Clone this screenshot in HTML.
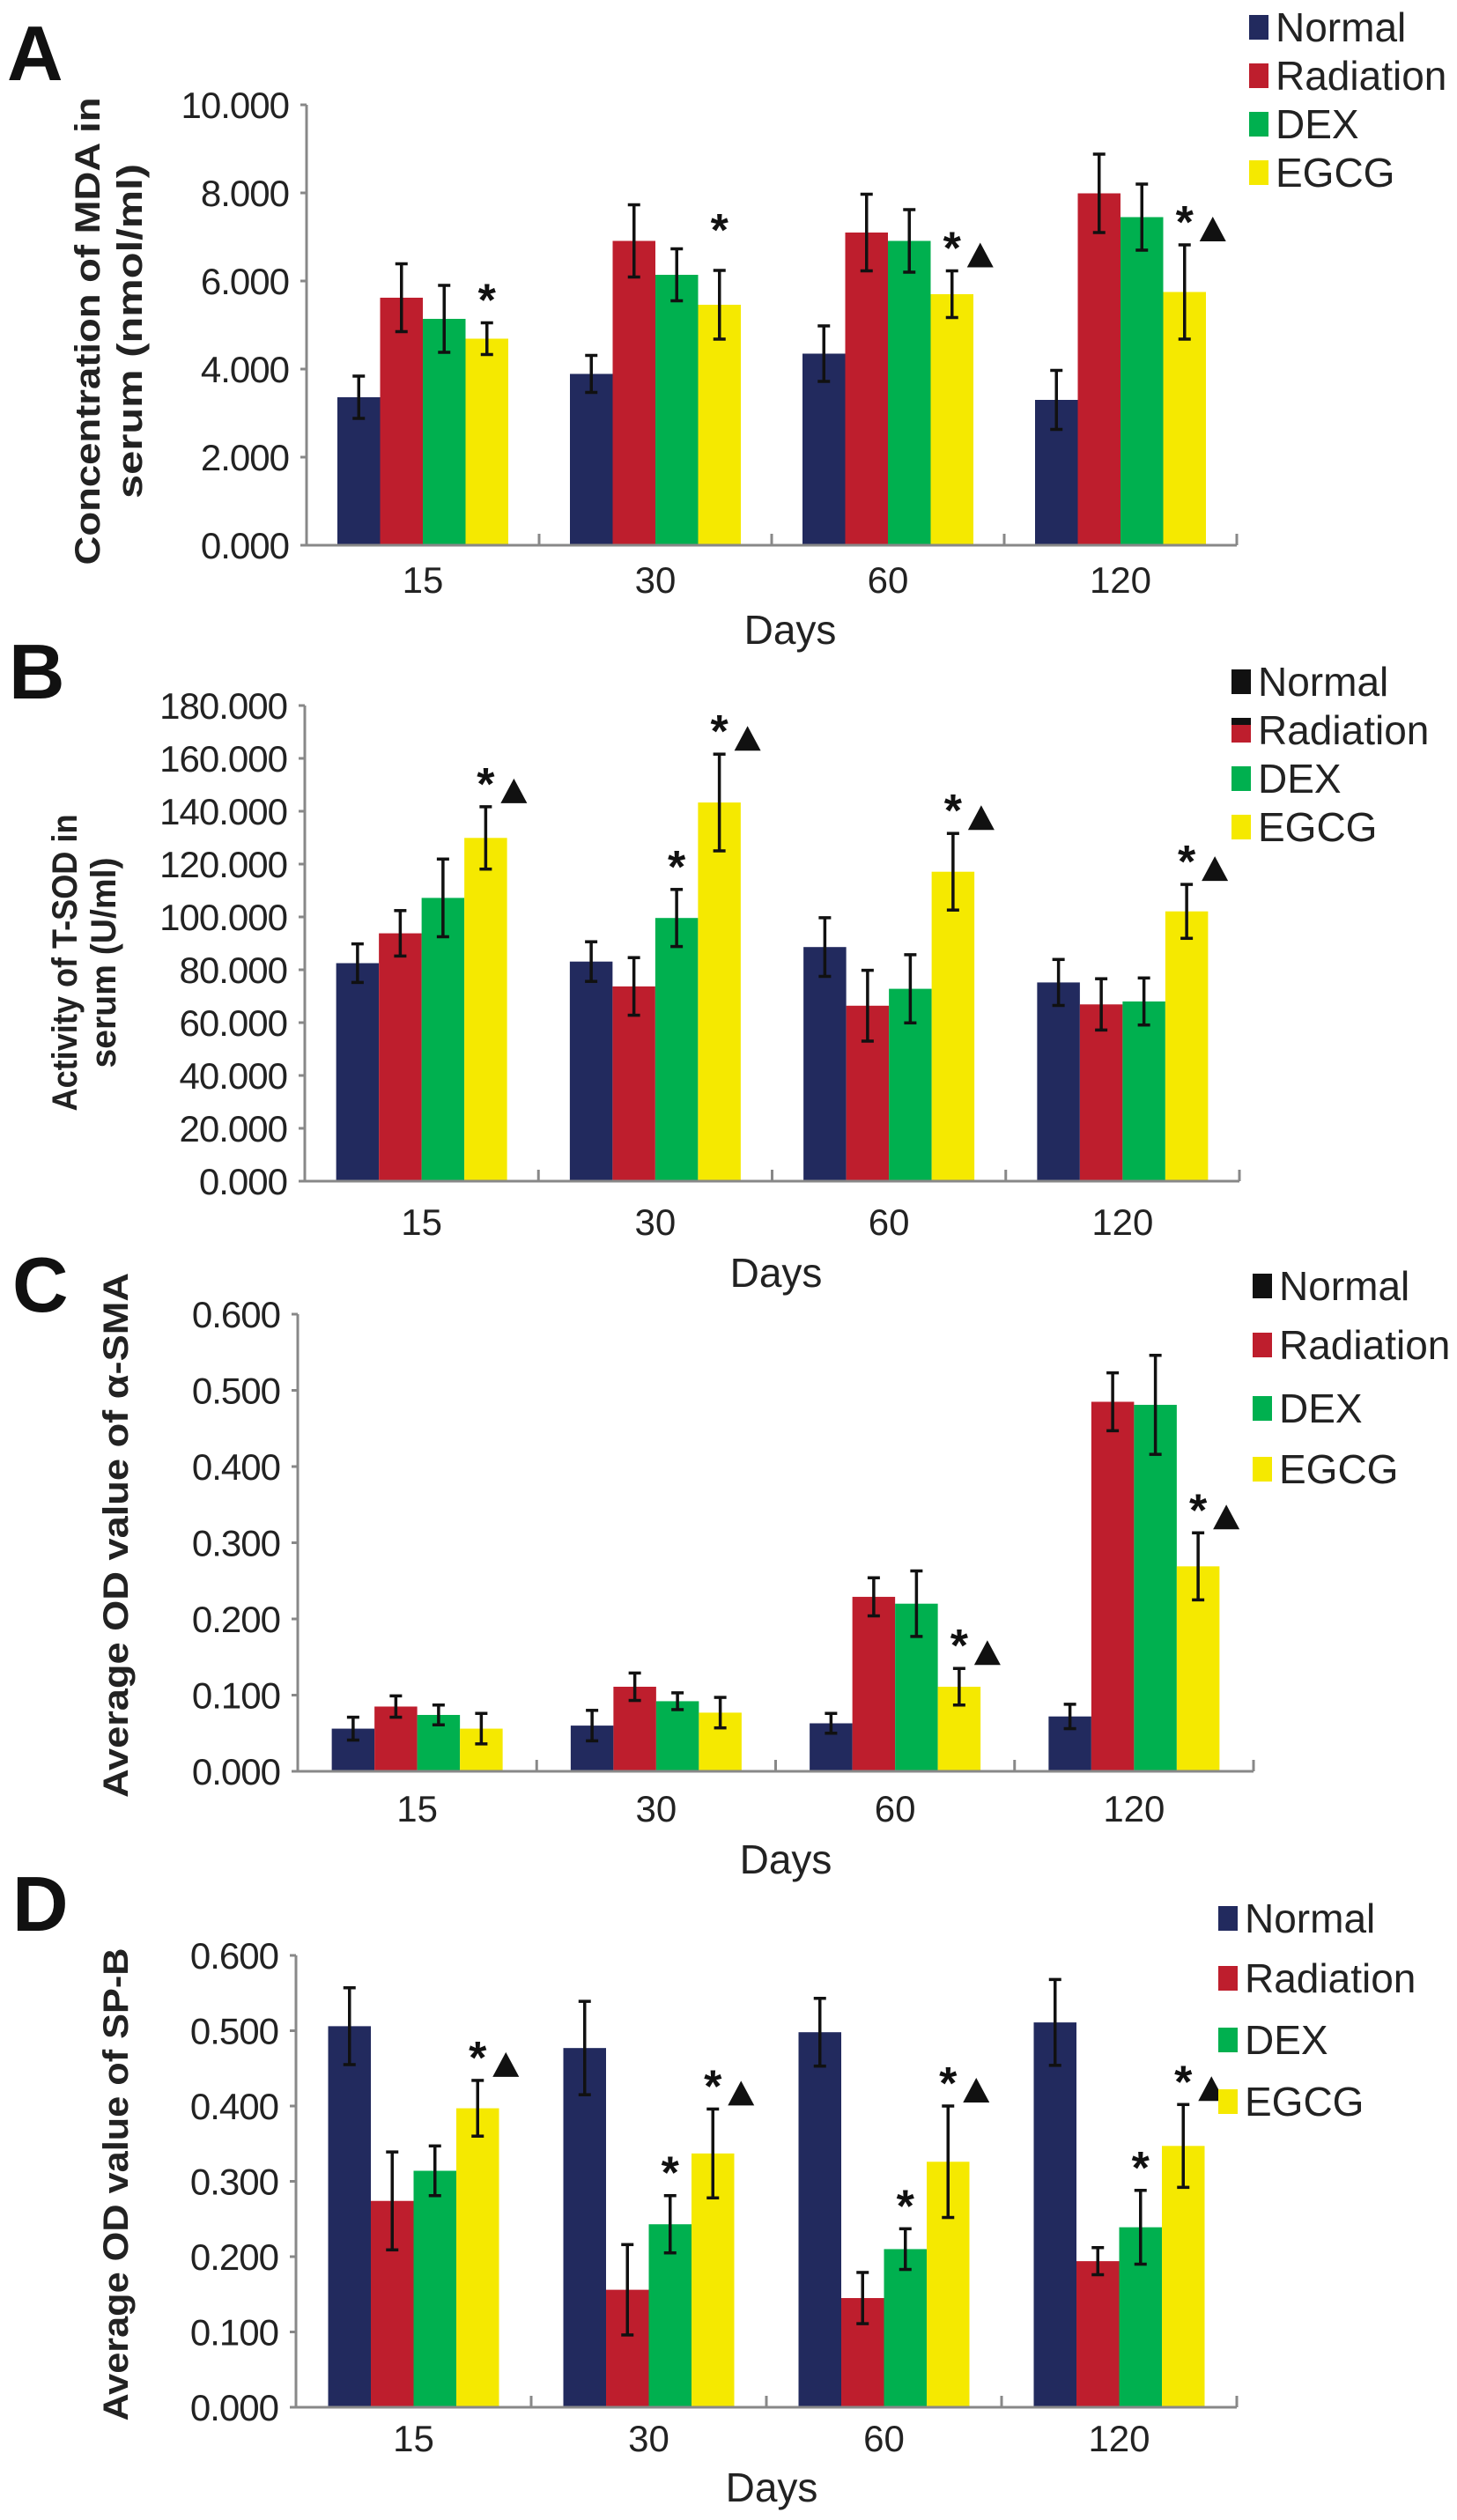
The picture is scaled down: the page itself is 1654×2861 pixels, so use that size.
<!DOCTYPE html>
<html><head><meta charset="utf-8"><style>
html,body{margin:0;padding:0;background:#fff;}
svg{display:block;}
text{font-family:"Liberation Sans",sans-serif;}
</style></head><body>
<svg id="fig" width="1654" height="2861" viewBox="0 0 1654 2861" xmlns="http://www.w3.org/2000/svg"></svg>
<script>
const categories=["15","30","60","120"];
const seriesNames=["Normal","Radiation","DEX","EGCG"];
// Panel A - MDA
const aNormal=[3.36,3.89,4.35,3.30], aNormalErr=[0.48,0.42,0.63,0.67];
const aRadiation=[5.62,6.91,7.10,7.99], aRadiationErr=[0.77,0.82,0.87,0.89];
const aDex=[5.14,6.14,6.91,7.45], aDexErr=[0.76,0.59,0.71,0.75];
const aEgcg=[4.69,5.46,5.70,5.75], aEgcgErr=[0.36,0.78,0.53,1.07];
const aTicks=["0.000","2.000","4.000","6.000","8.000","10.000"];
const aTickVals=[0,2,4,6,8,10];
const aMarks=[[3,0,"*"],[3,1,"*"],[3,2,"*▲"],[3,3,"*▲"]];
// Panel B - T-SOD
const bNormal=[82.5,83.1,88.6,75.2], bNormalErr=[7.3,7.5,11.1,8.7];
const bRadiation=[93.8,73.7,66.4,66.9], bRadiationErr=[8.6,10.9,13.4,9.7];
const bDex=[107.2,99.6,72.8,68.0], bDexErr=[14.7,10.8,12.9,8.9];
const bEgcg=[129.9,143.3,117.1,102.1], bEgcgErr=[11.8,18.3,14.5,10.2];
const bTicks=["0.000","20.000","40.000","60.000","80.000","100.000","120.000","140.000","160.000","180.000"];
const bTickVals=[0,20,40,60,80,100,120,140,160,180];
const bMarks=[[3,0,"*▲"],[2,1,"*"],[3,1,"*▲"],[3,2,"*▲"],[3,3,"*▲"]];
// Panel C - alpha-SMA
const cNormal=[0.056,0.060,0.063,0.072], cNormalErr=[0.015,0.020,0.013,0.016];
const cRadiation=[0.085,0.111,0.229,0.485], cRadiationErr=[0.014,0.018,0.025,0.038];
const cDex=[0.074,0.092,0.220,0.481], cDexErr=[0.013,0.011,0.043,0.065];
const cEgcg=[0.056,0.077,0.111,0.269], cEgcgErr=[0.020,0.020,0.024,0.044];
const cTicks=["0.000","0.100","0.200","0.300","0.400","0.500","0.600"];
const cTickVals=[0,0.1,0.2,0.3,0.4,0.5,0.6];
const cMarks=[[3,2,"*▲"],[3,3,"*▲"]];
// Panel D - SP-B
const dNormal=[0.506,0.477,0.498,0.511], dNormalErr=[0.051,0.062,0.045,0.057];
const dRadiation=[0.274,0.156,0.145,0.194], dRadiationErr=[0.065,0.060,0.034,0.018];
const dDex=[0.314,0.243,0.210,0.239], dDexErr=[0.033,0.038,0.027,0.049];
const dEgcg=[0.397,0.337,0.326,0.347], dEgcgErr=[0.037,0.059,0.074,0.055];
const dTicks=cTicks, dTickVals=cTickVals;
const dMarks=[[3,0,"*▲"],[2,1,"*"],[3,1,"*▲"],[2,2,"*"],[3,2,"*▲"],[2,3,"*"],[3,3,"*▲"]];

const colors=["#222a5e","#be1e2d","#00b04f","#f5e900"];
const NS="http://www.w3.org/2000/svg";
const svg=document.getElementById('fig');
function mk(tag,attrs,parent,txt){const e=document.createElementNS(NS,tag);for(const k in attrs)e.setAttribute(k,attrs[k]);if(txt!==undefined)e.textContent=txt;(parent||svg).appendChild(e);return e;}

function panel(p){
  const g=mk('g',{});
  
  
  const vmax=p.tickVals[p.tickVals.length-1];
  const yS=v=>p.y0-(v/vmax)*(p.y0-p.yTop);
  const gw=(p.x1-p.x0)/4, bw=48.5, off=(gw-4*bw)/2;
  const xS=(c,s)=>p.x0+c*gw+off+s*bw;
  const L=mk('text',{x:p.lx,y:p.ly,'font-size':88,'font-weight':'bold',fill:'#111'},g,p.id);
  
  
  p.series.forEach((vals,s)=>{
    vals.forEach((v,c)=>{
      const r=mk('rect',{x:xS(c,s),y:yS(v),width:bw,height:p.y0-yS(v),fill:colors[s]},g);
      
      
    });
  });
  p.series.forEach((vals,s)=>{
    vals.forEach((v,c)=>{
      const cx=xS(c,s)+bw/2, e=p.errs[s][c];
      const eg=mk('g',{stroke:'#111','stroke-width':3.5},g);
      
      
      mk('line',{x1:cx,x2:cx,y1:yS(v-e),y2:yS(v+e)},eg);
      mk('line',{x1:cx-7,x2:cx+7,y1:yS(v-e),y2:yS(v-e)},eg);
      mk('line',{x1:cx-7,x2:cx+7,y1:yS(v+e),y2:yS(v+e)},eg);
    });
  });
  p.marks.forEach(m=>{
    const s=m[0],c=m[1],t=m[2];
    const cx=xS(c,s)+bw/2, top=yS(p.series[s][c]+p.errs[s][c]);
    const st=mk('text',{x:cx,y:top-8+(p.starExtra&&p.starExtra[c+'-'+s]||0),'font-size':52,'font-weight':'bold','text-anchor':'middle',fill:'#111'},g,'*');
    
    
    if(t.indexOf('▲')>=0){
      const tx=cx+32, tb=top-4;
      const tr=mk('polygon',{points:`${tx-15},${tb} ${tx+15},${tb} ${tx},${tb-28}`,fill:'#111'},g);
      
      
    }
  });
  const ax=mk('g',{stroke:'#888','stroke-width':3},g);
  
  
  mk('line',{x1:p.x0,x2:p.x0,y1:p.yTop,y2:p.y0},ax);
  mk('line',{x1:p.x0,x2:p.x1,y1:p.y0,y2:p.y0},ax);
  p.tickVals.forEach(v=>mk('line',{x1:p.x0-7,x2:p.x0,y1:yS(v),y2:yS(v)},ax));
  for(let i=1;i<=4;i++)mk('line',{x1:p.x0+i*gw,x2:p.x0+i*gw,y1:p.y0-13,y2:p.y0},ax);
  p.ticks.forEach((t,i)=>{
    const tl=mk('text',{x:p.x0-20,y:yS(p.tickVals[i])+15,'font-size':42,'text-anchor':'end',fill:'#222','letter-spacing':'-1'},g,t);
    
    
  });
  categories.forEach((c,i)=>{
    const cl=mk('text',{x:p.x0+i*gw+gw/2,y:p.catY+15,'font-size':42,'text-anchor':'middle',fill:'#222'},g,c);
    
    
  });
  const xt=mk('text',{x:p.daysX,y:p.daysY+16,'font-size':46,'text-anchor':'middle',fill:'#222'},g,'Days');
  
  
  p.ytitle.forEach(l=>{
    const yt=mk('text',{x:0,y:0,'font-size':40,'font-weight':'bold','text-anchor':'middle','dominant-baseline':'central',fill:'#222',textLength:l[2],lengthAdjust:'spacingAndGlyphs',transform:`translate(${l[0]},${p.ytc}) rotate(-90)`},g,l[1]);
    
    
  });
  seriesNames.forEach((n,i)=>{
    const lg=mk('g',{},g);
    
    
    const cy=p.legRows[i];
    const col=(i===0&&p.blackNormal)?'#111':colors[i];
    mk('rect',{x:p.legX,y:cy-14,width:22,height:28,fill:col},lg);
    if(i===1&&p.radTop)mk('rect',{x:p.legX,y:cy-14,width:22,height:8,fill:'#111'},lg);
    mk('text',{x:p.legX+30,y:cy+16,'font-size':46,fill:'#222'},lg,n);
  });
}

panel({id:'A',x0:348,x1:1404,yTop:119,y0:619,ticks:aTicks,tickVals:aTickVals,
  series:[aNormal,aRadiation,aDex,aEgcg],errs:[aNormalErr,aRadiationErr,aDexErr,aEgcgErr],marks:aMarks,
  starExtra:{'1-3':-20},
  lx:8,ly:91,catY:658,daysX:897,daysY:715,
  ytitle:[[100,'Concentration of MDA in',531],[148,'serum (nmol/ml)',380]],ytc:376,
  legX:1418,legRows:[31,86,141,196]});
panel({id:'B',x0:346,x1:1407,yTop:801,y0:1341,ticks:bTicks,tickVals:bTickVals,
  series:[bNormal,bRadiation,bDex,bEgcg],errs:[bNormalErr,bRadiationErr,bDexErr,bEgcgErr],marks:bMarks,
  lx:10,ly:793,catY:1387,daysX:881,daysY:1445,
  ytitle:[[74,'Activity of T-SOD in',337],[118,'serum (U/ml)',239]],ytc:1093,
  legX:1398,legRows:[774,829,884,939],blackNormal:true,radTop:true});
panel({id:'C',x0:338,x1:1423,yTop:1492,y0:2011,ticks:cTicks,tickVals:cTickVals,
  series:[cNormal,cRadiation,cDex,cEgcg],errs:[cNormalErr,cRadiationErr,cDexErr,cEgcgErr],marks:cMarks,
  lx:14,ly:1489,catY:2053,daysX:892,daysY:2111,
  ytitle:[[132,'Average OD value of α-SMA',596]],ytc:1743,
  legX:1422,legRows:[1460,1527,1599,1668],blackNormal:true});
panel({id:'D',x0:336,x1:1404,yTop:2220,y0:2733,ticks:dTicks,tickVals:dTickVals,
  series:[dNormal,dRadiation,dDex,dEgcg],errs:[dNormalErr,dRadiationErr,dDexErr,dEgcgErr],marks:dMarks,
  lx:14,ly:2192,catY:2768,daysX:876,daysY:2824,
  ytitle:[[132,'Average OD value of SP-B',537]],ytc:2480,
  legX:1383,legRows:[2178,2246,2316,2386]});
</script>
</body></html>
